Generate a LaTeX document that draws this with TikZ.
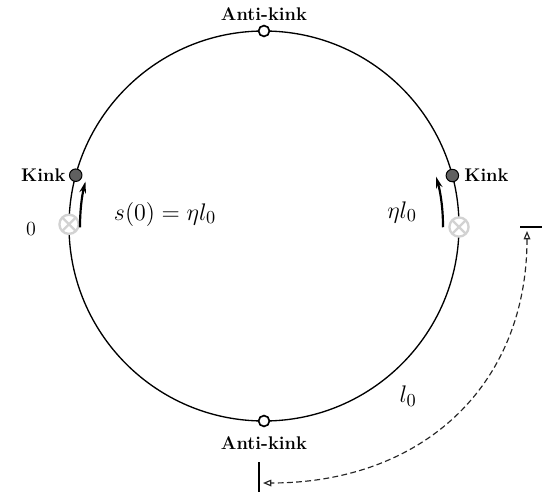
\documentclass[tikz,border=0pt]{standalone}
\usepackage{amsmath,amssymb}
\usetikzlibrary{calc,arrows.meta}
\tikzset{
  lbl/.style={font=\bfseries\fontsize{11}{13}\selectfont,inner sep=1pt},
  place/.style={font=\fontsize{15.5}{18}\selectfont,inner sep=1pt},
  ring/.style={line width=0.8pt},
  kinkdot/.style={circle,draw,line width=0.6pt,fill=gray!75!black,minimum size=7.5pt,inner sep=0pt},
  akdot/.style={circle,draw,line width=1pt,fill=white,minimum size=6.5pt,inner sep=0pt},
  crossdot/.style={circle,draw=gray!35,fill=white,line width=1.4pt,minimum size=11.5pt,inner sep=0pt,
    path picture={\draw[gray!35,line width=1.4pt]
      (path picture bounding box.north west) -- (path picture bounding box.south east)
      (path picture bounding box.north east) -- (path picture bounding box.south west);}},
  move/.style={line width=1.3pt,-{Stealth[length=7pt,width=4pt]}},
  cut/.style={line width=1.1pt},
  link/.style={gray!30!black,line width=0.7pt,dash pattern=on 3.5pt off 2pt,{Triangle[open,length=5pt,width=4pt]}-{Triangle[open,length=5pt,width=4pt]}}
}
\begin{document}
\begin{tikzpicture}[x=0.6pt,y=-0.6pt]
\useasboundingbox (0,0) rectangle (542,492);
\coordinate (c) at (264,226);
\draw[ring] (c) circle[radius=195];
% zeros of the field on the ring
\node[crossdot] (zl) at ($(c)+(180.5:195)$) {};
\node[crossdot] (zr) at ($(c)+(0.3:195)$) {};
% the motion of the kinks
\draw[move] ($(c)+(179.6:184)$) arc[start angle=179.6,end angle=194,radius=184];
\draw[move] ($(c)+(0.4:179)$) arc[start angle=0.4,end angle=-16,radius=179];
% kinks and anti-kinks
\node[kinkdot] (kl) at ($(c)+(-164.9:195)$) {};
\node[kinkdot] (kr) at ($(c)+(-15:195)$) {};
\node[akdot] (at) at ($(c)+(-90:195)$) {};
\node[akdot] (ab) at ($(c)+(90:195)$) {};
\node[lbl,left=5pt] (tkl) at (kl) {Kink};
\node[lbl,right=6pt] (tkr) at (kr) {Kink};
\node[lbl,above=5pt] (tat) at (at) {Anti{-}kink};
\node[lbl,below=8pt] (tab) at (ab) {Anti-kink};
% positions along the ring
\node[place,font=\fontsize{12.5}{14}\selectfont] (p0) at (31,229) {$0$};
\node[place] (ps) at (165,214) {$s(0)=\eta l_0$};
\node[place] (pe) at (402,212) {$\eta l_0$};
\node[place] (pl) at (408,396) {$l_0$};
% the two ends of the cut line, joined
\coordinate (rt1) at (520,227);
\coordinate (rt2) at (542,227);
\coordinate (bt1) at (259,462);
\coordinate (bt2) at (259,492);
\draw[cut] (rt1) -- (rt2);
\draw[cut] (bt1) -- (bt2);
\coordinate (la) at (527,231);
\coordinate (lb) at (263,483);
\draw[link] (la) .. controls (527,386) and (422,483) .. (lb);
\end{tikzpicture}
\end{document}
